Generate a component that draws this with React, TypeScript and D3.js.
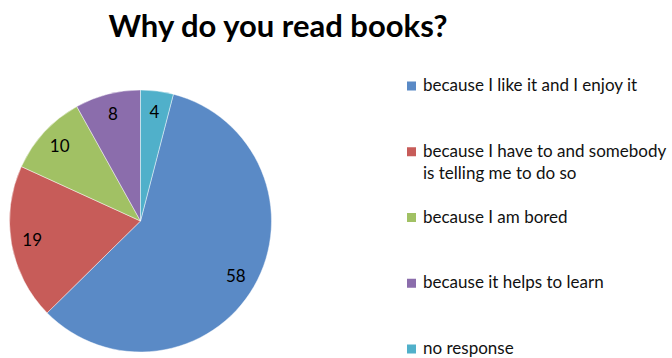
import React from "react";
import * as d3 from "d3";

const categories = [
  "because I like it and I enjoy it",
  "because I have to and somebody is telling me to do so",
  "because I am bored",
  "because it helps to learn",
  "no response",
];
const legendLines = [
  ["because I like it and I enjoy it"],
  ["because I have to and somebody", "is telling me to do so"],
  ["because I am bored"],
  ["because it helps to learn"],
  ["no response"],
];
const values = [58, 19, 10, 8, 4];
const colors = ["#5A8AC6", "#C75C59", "#A1C164", "#8B6DAC", "#50B0CA"];
const title = "Why do you read books?";

const W = 672;
const H = 358;
const cx = 140.5;
const cy = 221;
const R = 131;
const FONT = "Lato, 'Open Sans', sans-serif";

export default function App() {
  const total = d3.sum(values);
  const offset = (values[values.length - 1] / total) * 2 * Math.PI;
  const pie = d3
    .pie<number>()
    .sort(null)
    .value((d) => d)
    .startAngle(offset)
    .endAngle(offset + 2 * Math.PI);
  const arcs = pie(values);
  const arc = d3.arc<d3.PieArcDatum<number>>().innerRadius(0).outerRadius(R);
  const labelArc = d3
    .arc<d3.PieArcDatum<number>>()
    .innerRadius(R * 0.84)
    .outerRadius(R * 0.84);

  const legendY = d3
    .scaleLinear()
    .domain([0, categories.length - 1])
    .range([91, 354]);

  return (
    <svg
      width={W}
      height={H}
      style={{ position: "absolute", left: 0, top: 0, background: "#fff" }}
    >
      <text
        x={278}
        y={37}
        textAnchor="middle"
        fontFamily={FONT}
        fontWeight="bold"
        fontSize={31}
        fill="#000"
      >
        {title}
      </text>
      <g transform={`translate(${cx},${cy})`}>
        {arcs.map((a, i) => (
          <path
            key={i}
            d={arc(a) || ""}
            fill={colors[i]}
            stroke="#ffffff"
            strokeOpacity={0.6}
            strokeWidth={0.75}
          />
        ))}
        {arcs.map((a, i) => {
          const [x, y] = labelArc.centroid(a);
          return (
            <text
              key={i}
              x={x}
              y={y}
              dy="0.35em"
              textAnchor="middle"
              fontFamily={FONT}
              fontSize={17}
              fill="#000"
            >
              {values[i]}
            </text>
          );
        })}
      </g>
      <g>
        {legendLines.map((lines, i) => {
          const y = legendY(i);
          return (
            <g key={i}>
              <rect x={407} y={y - 9.5} width={9} height={9} fill={colors[i]} />
              {lines.map((ln, j) => (
                <text
                  key={j}
                  x={423}
                  y={y + j * 22}
                  fontFamily={FONT}
                  fontSize={17}
                  fill="#111"
                >
                  {ln}
                </text>
              ))}
            </g>
          );
        })}
      </g>
    </svg>
  );
}
